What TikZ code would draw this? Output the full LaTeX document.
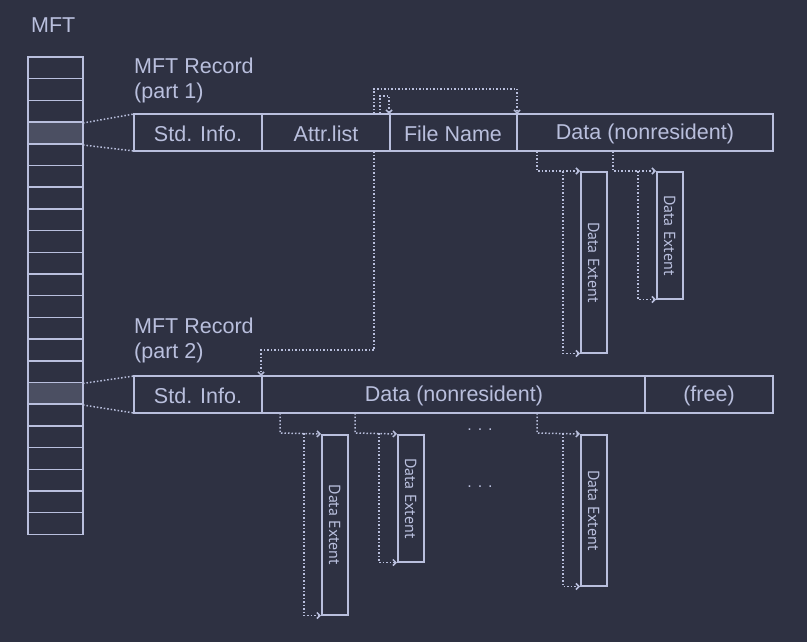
\documentclass[tikz,border=0pt]{standalone}
\usepackage{fontspec}
\setmainfont{Liberation Sans}
\newfontfamily\extfont{PT Sans}
\usetikzlibrary{arrows.meta}
\definecolor{bg}{HTML}{2E3142}
\definecolor{ln}{HTML}{B9BFDD}
\definecolor{hl}{HTML}{4B4F62}
\begin{document}
\begin{tikzpicture}[x=1pt,y=-1pt,
  box/.style={draw=ln,line width=1.5pt},
  lbl/.style={text=ln,font=\fontsize{21.5}{25}\selectfont,inner sep=0pt},
  ext/.style={draw=ln,line width=1.5pt,minimum width=26pt,inner sep=0pt,anchor=north west},
  extl/.style={text=ln,font=\extfont\fontsize{16}{18}\selectfont,rotate=-90},
  con/.style={draw=ln,line width=1.5pt,dash pattern=on 1.5pt off 2pt,-{Straight Barb[length=3pt,width=6pt]}},
  dl/.style={draw=ln,line width=1.5pt,dash pattern=on 1.5pt off 2pt}]
\fill[bg] (0,0) rectangle (807,642);
\useasboundingbox (0,0) rectangle (807,642);
% MFT column
\node[lbl,anchor=west] (mft) at (31,25) {MFT};
\fill[hl] (28,123) rectangle (83,145);
\fill[hl] (28,383.4) rectangle (83,405);
\foreach \i in {0,...,21}{
  \draw[box] (28,{57+\i*21.7}) rectangle (83,{57+(\i+1)*21.7});
}
\coordinate (c1t) at (83,123); \coordinate (c1b) at (83,145);
\coordinate (c2t) at (83,383.4); \coordinate (c2b) at (83,405);
% Record 1
\node[lbl,anchor=west,align=left] (r1l) at (134,80) {MFT Record\\(part 1)};
\draw[box] (134,114) rectangle (773,151);
\foreach \x in {262,390,517}{\draw[box] (\x,114)--(\x,151);}
\node[lbl] (s1) at (198,134) {Std. Info.};
\node[lbl] (al) at (326,134) {Attr.list};
\node[lbl] (fn) at (453,134) {File Name};
\node[lbl] (d1) at (645,134) {Data (nonresident)};
\draw[dl] (c1t) -- (134,114);
\draw[dl] (c1b) -- (134,151);
% Record 2
\node[lbl,anchor=west,align=left] (r2l) at (134,340) {MFT Record\\(part 2)};
\draw[box] (134,376) rectangle (773,413);
\foreach \x in {262,645}{\draw[box] (\x,376)--(\x,413);}
\node[lbl] (s2) at (198,396) {Std. Info.};
\node[lbl] (d2) at (454,396) {Data (nonresident)};
\node[lbl] (fr) at (709,396) {(free)};
\draw[dl] (c2t) -- (134,376);
\draw[dl] (c2b) -- (134,413);
% attr list connectors
\coordinate (a1) at (374,114); \coordinate (a2) at (380,114);
\coordinate (a3) at (374,151);
\coordinate (fnl) at (389,114); \coordinate (fnr) at (517,114);
\coordinate (r2t) at (261,376);
\draw[con] (a1) -- (374,89) -- (517,89) -- (fnr);
\draw[con] (a2) -- (380,96) -- (389,96) -- (fnl);
\draw[con] (a3) -- (374,350) -- (261,350) -- (r2t);
% extents top
\node[ext,minimum height=181pt] (e1) at (580,171) {};
\node[extl] at (e1.center) {Data Extent};
\node[ext,minimum height=127pt] (e2) at (656,171) {};
\node[extl] at (e2.center) {Data Extent};
% extents bottom
\node[ext,minimum height=180pt] (e3) at (321,434) {};
\node[extl] at (e3.center) {Data Extent};
\node[ext,minimum height=127pt] (e4) at (397,434) {};
\node[extl] at (e4.center) {Data Extent};
\node[ext,minimum height=151pt] (e5) at (580,434) {};
\node[extl] at (e5.center) {Data Extent};
\node[text=ln,font=\fontsize{16}{16}\selectfont] (dt1) at (480,430) {. . .};
\node[text=ln,font=\fontsize{16}{16}\selectfont] (dt2) at (480,487) {. . .};
% extent connectors
\foreach \n/\sx/\vx/\ty in {e1/537/563/151,e2/613/638/151,e3/280/304/413,e4/355/379/413,e5/537/563/413}{
  \draw[con] (\sx,\ty) -- (\sx,{\ty+20}) -- (\n.north west);
  \draw[con] (\vx,{\ty+20}) |- (\n.south west);
}
\end{tikzpicture}
\end{document}
